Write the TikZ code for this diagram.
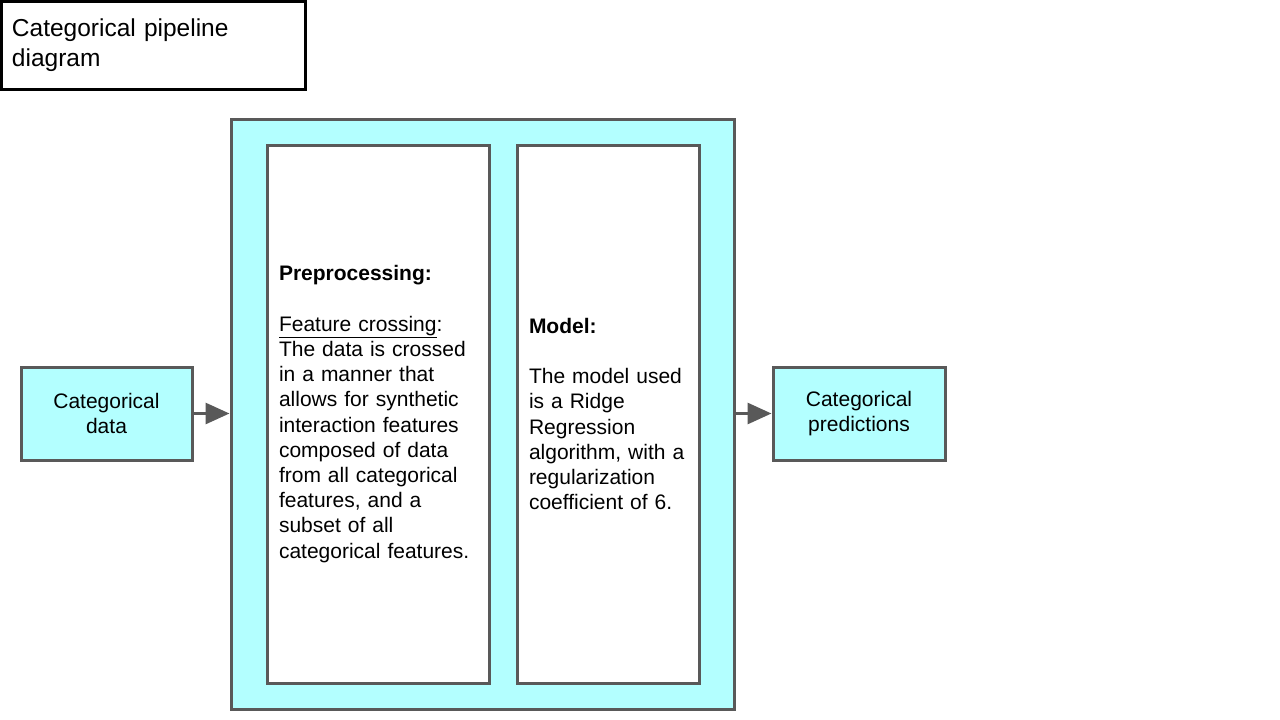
\documentclass[tikz,border=0pt]{standalone}
\usepackage{fontspec}
\setmainfont{Liberation Sans}
\usetikzlibrary{arrows.meta}

\definecolor{boxcyan}{HTML}{B3FFFF}
\definecolor{boxgrey}{HTML}{595959}

\tikzset{
  cyanbox/.style={draw=boxgrey, line width=3pt, fill=boxcyan, rectangle},
  whitebox/.style={draw=boxgrey, line width=3pt, fill=white, rectangle},
  flow/.style={draw=boxgrey, line width=3pt, -{Triangle[length=24pt,width=21pt]}},
  body/.style={font=\fontsize{21}{25.2}\selectfont},
}

\begin{document}
\begin{tikzpicture}[x=1pt, y=-1pt]

			\useasboundingbox (0,0) rectangle (1280,720);

			\node[draw=black, line width=3pt, fill=white, minimum width=304pt, minimum height=88pt,
				text width=282pt, align=left, inner sep=11pt, font=\fontsize{24.5}{30}\selectfont]
				(title) at (153,45) {Categorical pipeline\\diagram};

			\node[cyanbox, minimum width=503pt, minimum height=590pt] (pipeline) at (482.5,414) {};

			\node[whitebox, minimum width=222pt, minimum height=538pt, text width=198pt,
				inner sep=12pt, align=left, body] (prep) at (378,414)
				{\textbf{Preprocessing:}\\[25.2pt]
				\underline{Feature crossing}:\\
				The data is crossed\\
				in a manner that\\
				allows for synthetic\\
				interaction features\\
				composed of data\\
				from all categorical\\
				features, and a\\
				subset of all\\
				categorical features.};

			\node[whitebox, minimum width=182pt, minimum height=538pt, text width=158pt,
				inner sep=12pt, align=left, body] (model) at (608,414)
				{\textbf{Model:}\\[25.2pt]
				The model used\\
				is a Ridge\\
				Regression\\
				algorithm, with a\\
				regularization\\
				coefficient of 6.};

			\node[cyanbox, minimum width=171pt, minimum height=93pt, align=center, body]
				(data) at (106.5,413.5) {Categorical\\data};

			\node[cyanbox, minimum width=172pt, minimum height=93pt, align=center, body]
				(pred) at (859,413.5) {Categorical\\predictions};

			\draw[flow] (data.east) -- (pipeline.west |- data.east);
			\draw[flow] (pipeline.east |- pred.west) -- (pred.west);

	\end{tikzpicture}
\end{document}
